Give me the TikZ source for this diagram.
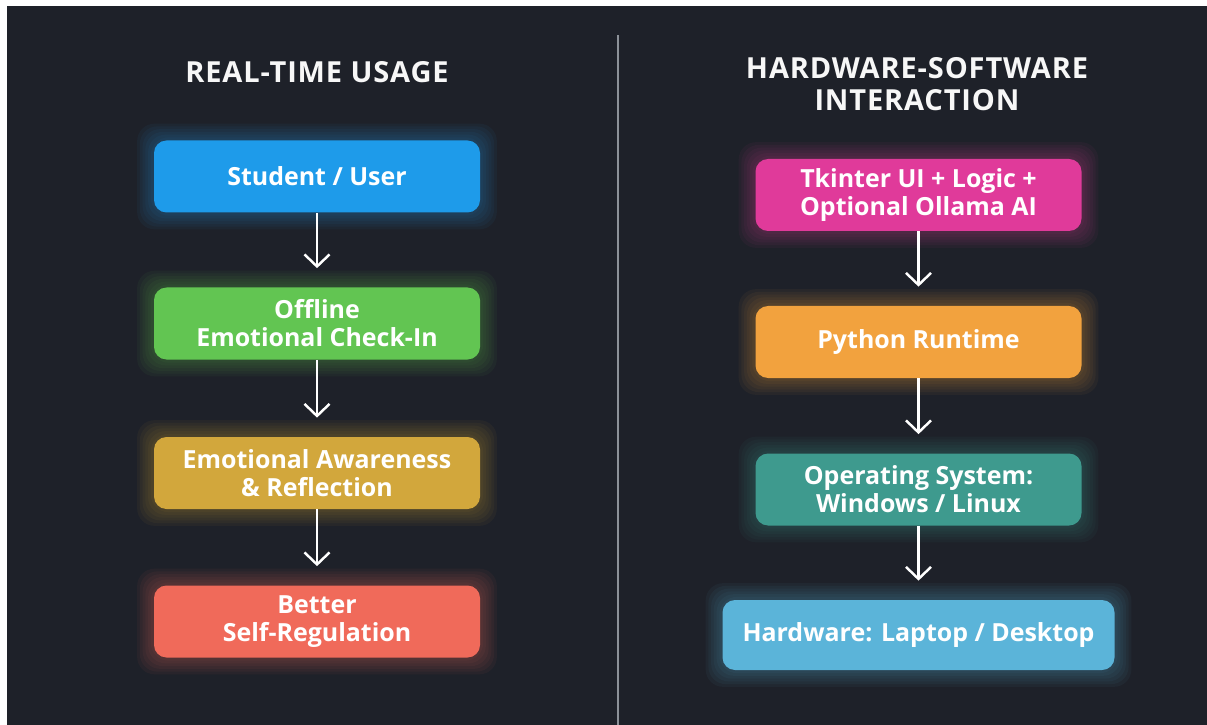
\documentclass[tikz,border=0pt]{standalone}
\usepackage{fontspec}
\setmainfont{Open Sans}
\usepackage{xcolor}
\usetikzlibrary{arrows.meta,positioning,calc,backgrounds}
\definecolor{bgdark}{HTML}{1E2129}
\definecolor{divgray}{HTML}{8C9198}
\definecolor{userblue}{HTML}{1E9BEA}
\definecolor{checkgreen}{HTML}{62C552}
\definecolor{awaregold}{HTML}{D2A73C}
\definecolor{regcoral}{HTML}{F06A5A}
\definecolor{uimagenta}{HTML}{E03A9A}
\definecolor{pyorange}{HTML}{F2A23E}
\definecolor{osteal}{HTML}{3E9A8E}
\definecolor{hwsky}{HTML}{5BB4D9}

\begin{document}
\begin{tikzpicture}[
  every node/.style={font=\fontsize{14.2}{16}\selectfont\bfseries, text=white},
  title/.style={font=\fontsize{16.5}{18.5}\selectfont\bfseries\addfontfeatures{LetterSpace=3}, text=white!94!gray, align=center},
  stage/.style={rounded corners=0.25cm, minimum width=6.52cm, minimum height=1.44cm, align=center, inner sep=2pt},
  arrow/.style={-{Straight Barb[length=2.4mm, width=5mm]}, line width=1.4pt, white, shorten >=0.38cm}
]
\useasboundingbox (0,0) rectangle (24.14,-14.5);

\node[title] (tleft) at (6.34,-1.44) {REAL-TIME USAGE};
\node[title] (tright) at (18.34,-1.68) {HARDWARE-SOFTWARE\\INTERACTION};

% left column
\node[stage, fill=userblue] (s1) at (6.34,-3.53) {Student / User};
\node[stage, fill=checkgreen] (s2) at (6.34,-6.47) {Offline\\Emotional Check-In};
\node[stage, fill=awaregold] (s3) at (6.34,-9.46) {Emotional Awareness\\\& Reflection};
\node[stage, fill=regcoral] (s4) at (6.34,-12.43) {Better\\Self-Regulation};

% right column
\node[stage, fill=uimagenta] (h1) at (18.37,-3.9) {Tkinter UI + Logic +\\Optional Ollama AI};
\node[stage, fill=pyorange] (h2) at (18.37,-6.84) {Python Runtime};
\node[stage, fill=osteal] (h3) at (18.37,-9.79) {Operating System:\\Windows / Linux};
\node[stage, fill=hwsky, minimum width=7.84cm, minimum height=1.4cm] (h4) at (18.37,-12.7) {Hardware: Laptop / Desktop};

\draw[arrow] (s1) -- (s2);
\draw[arrow] (s2) -- (s3);
\draw[arrow] (s3) -- (s4);
\draw[arrow] (h1) -- (h2);
\draw[arrow] (h2) -- (h3);
\draw[arrow] (h3) -- (h4);

\begin{scope}[on background layer]
  \fill[white] (0,0) rectangle (24.14,-14.5);
  \fill[bgdark] (0.14,-0.12) rectangle (24.14,-14.5);
  \draw[divgray, line width=1.1pt] (12.36,-0.7) -- (12.36,-14.5);
  % soft glow round each box
  \foreach \n/\c in {s1/userblue,s2/checkgreen,s3/awaregold,s4/regcoral,h1/uimagenta,h2/pyorange,h3/osteal,h4/hwsky} {
    \foreach \g in {1,...,6} {
      \fill[\c, opacity=0.05, rounded corners=0.35cm]
        ($(\n.south west)+(-\g*0.055,-\g*0.055)$) rectangle ($(\n.north east)+(\g*0.055,\g*0.055)$);
    }
  }
\end{scope}
\end{tikzpicture}
\end{document}
